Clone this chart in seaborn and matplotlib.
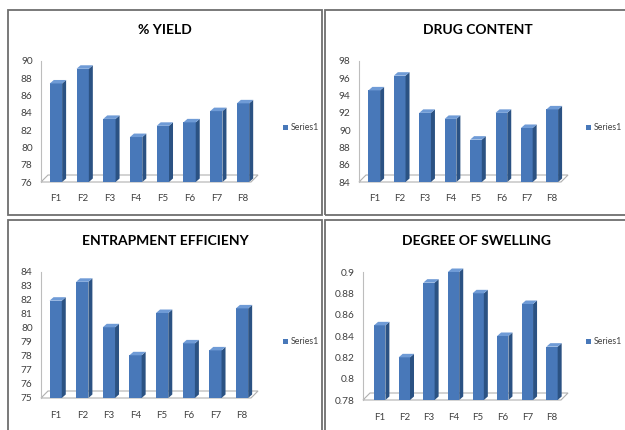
import numpy as np
import pandas as pd
import seaborn as sns
import matplotlib
matplotlib.use("Agg")
import matplotlib.pyplot as plt
from matplotlib.patches import Polygon, Rectangle

# ---- data -------------------------------------------------------------
formulations = ["F1", "F2", "F3", "F4", "F5", "F6", "F7", "F8"]
series_name = "Series1"

yield_pct = [87.4, 89.1, 83.3, 81.2, 82.5, 82.9, 84.2, 85.1]
drug_content = [94.6, 96.3, 92.0, 91.3, 88.9, 92.0, 90.25, 92.4]
entrapment = [81.95, 83.3, 80.05, 78.05, 81.07, 78.9, 78.4, 81.4]
swelling = [0.85, 0.82, 0.89, 0.90, 0.88, 0.84, 0.87, 0.83]

yield_ticks = [76, 78, 80, 82, 84, 86, 88, 90]
drug_ticks = [84, 86, 88, 90, 92, 94, 96, 98]
entrap_ticks = [75, 76, 77, 78, 79, 80, 81, 82, 83, 84]
swell_ticks = [0.78, 0.80, 0.82, 0.84, 0.86, 0.88, 0.90]
swell_tick_labels = ["0.78", "0.8", "0.82", "0.84", "0.86", "0.88", "0.9"]

titles = ["% YIELD", "DRUG CONTENT", "ENTRAPMENT EFFICIENY", "DEGREE OF SWELLING"]

# ---- style ------------------------------------------------------------
sns.set_theme(style="white")
plt.rcParams["font.family"] = ["Lato", "DejaVu Sans"]

W, H = 625, 430
FRONT = "#4878b9"
SIDE = "#2b5283"
TOP = "#6f9bd6"
TEXT = "#404040"

fig = plt.figure(figsize=(W / 100, H / 100), dpi=100)
fig.patch.set_facecolor("white")


def px_rect(left, top, right, bottom):
    return [left / W, 1 - bottom / H, (right - left) / W, (bottom - top) / H]


# panel boxes (pixel layout)
for (l, t, r, b) in [(8, 10, 322, 215), (325, 10, 628, 215),
                     (8, 220, 322, 434), (325, 220, 628, 434)]:
    fig.patches.append(Rectangle((l / W, 1 - b / H), (r - l) / W, (b - t) / H,
                                 transform=fig.transFigure, fill=False,
                                 edgecolor="#6e6e6e", lw=1.3))

panels = [
    dict(values=yield_pct, ticks=yield_ticks, labels=[str(t) for t in yield_ticks],
         box=(41, 61, 258, 182), xlim=(-0.56, 7.56), title_xy=(165, 30), leg=(283, 128)),
    dict(values=drug_content, ticks=drug_ticks, labels=[str(t) for t in drug_ticks],
         box=(359, 61, 568, 182), xlim=(-0.6, 7.62), title_xy=(478, 30), leg=(586, 128)),
    dict(values=entrapment, ticks=entrap_ticks, labels=[str(t) for t in entrap_ticks],
         box=(41, 272, 258, 398), xlim=(-0.55, 7.6), title_xy=(165, 241), leg=(283, 342)),
    dict(values=swelling, ticks=swell_ticks, labels=swell_tick_labels,
         box=(363, 272, 568, 400), xlim=(-0.68, 7.65), title_xy=(477, 241), leg=(586, 342)),
]

for title, p in zip(titles, panels):
    l, t, r, b = p["box"]
    ax = fig.add_axes(px_rect(l, t, r, b))
    df = pd.DataFrame({"formulation": formulations, "value": p["values"],
                       "series": series_name})
    sns.barplot(data=df, x="formulation", y="value", hue="series",
                palette=[FRONT], saturation=1, width=0.46, ax=ax,
                linewidth=0, zorder=3)
    ymin, ymax = p["ticks"][0], p["ticks"][-1]
    ax.set_ylim(ymin, ymax)
    ax.set_xlim(*p["xlim"])
    ax.set_facecolor("none")

    # pixel -> data unit conversion for the pseudo-3D depth
    ux = (p["xlim"][1] - p["xlim"][0]) / (r - l)
    uy = (ymax - ymin) / (b - t)
    dx, dy = 4.0 * ux, 3.5 * uy

    # floor of the 3D plot area
    fx, fy = 7 * ux, 7 * uy
    x0, x1 = p["xlim"]
    floor = Polygon([(x0, ymin), (x1 - fx, ymin), (x1, ymin + fy), (x0 + fx, ymin + fy)],
                    closed=True, facecolor="white", edgecolor="#b0b0b0", lw=0.8,
                    zorder=1, clip_on=False)
    ax.add_patch(floor)

    # side and top faces of each column
    for bar in ax.containers[0]:
        bx, bw, top = bar.get_x(), bar.get_width(), bar.get_height()
        side = Polygon([(bx + bw, ymin), (bx + bw + dx, ymin + dy),
                        (bx + bw + dx, top + dy), (bx + bw, top)],
                       closed=True, facecolor=SIDE, edgecolor="none", zorder=3,
                       clip_on=False)
        cap = Polygon([(bx, top), (bx + dx, top + dy), (bx + bw + dx, top + dy),
                       (bx + bw, top)],
                      closed=True, facecolor=TOP, edgecolor="none", zorder=3,
                      clip_on=False)
        ax.add_patch(side)
        ax.add_patch(cap)

    for s in ["top", "right", "bottom"]:
        ax.spines[s].set_visible(False)
    ax.spines["left"].set_color("#bdbdbd")
    ax.spines["left"].set_linewidth(0.8)

    ax.set_yticks(p["ticks"])
    ax.set_yticklabels(p["labels"])
    ax.tick_params(axis="y", length=0, pad=6, labelsize=7.3, labelcolor=TEXT)
    ax.tick_params(axis="x", length=0, pad=9, labelsize=7, labelcolor=TEXT)
    ax.set_xlabel("")
    ax.set_ylabel("")

    lx = (p["leg"][0] - l) / (r - l)
    ly = (b - p["leg"][1]) / (b - t)
    sns.move_legend(ax, "center left", bbox_to_anchor=(lx, ly), frameon=False,
                    title=None, fontsize=6.3, handlelength=0.6, handleheight=0.6,
                    handletextpad=0.3, borderaxespad=0, borderpad=0)
    for txt in ax.get_legend().get_texts():
        txt.set_color(TEXT)

    fig.text(p["title_xy"][0] / W, 1 - p["title_xy"][1] / H, title,
             ha="center", va="center", fontsize=10, fontweight="bold",
             color="black")

fig.savefig("out.png", dpi=100, facecolor="white")
